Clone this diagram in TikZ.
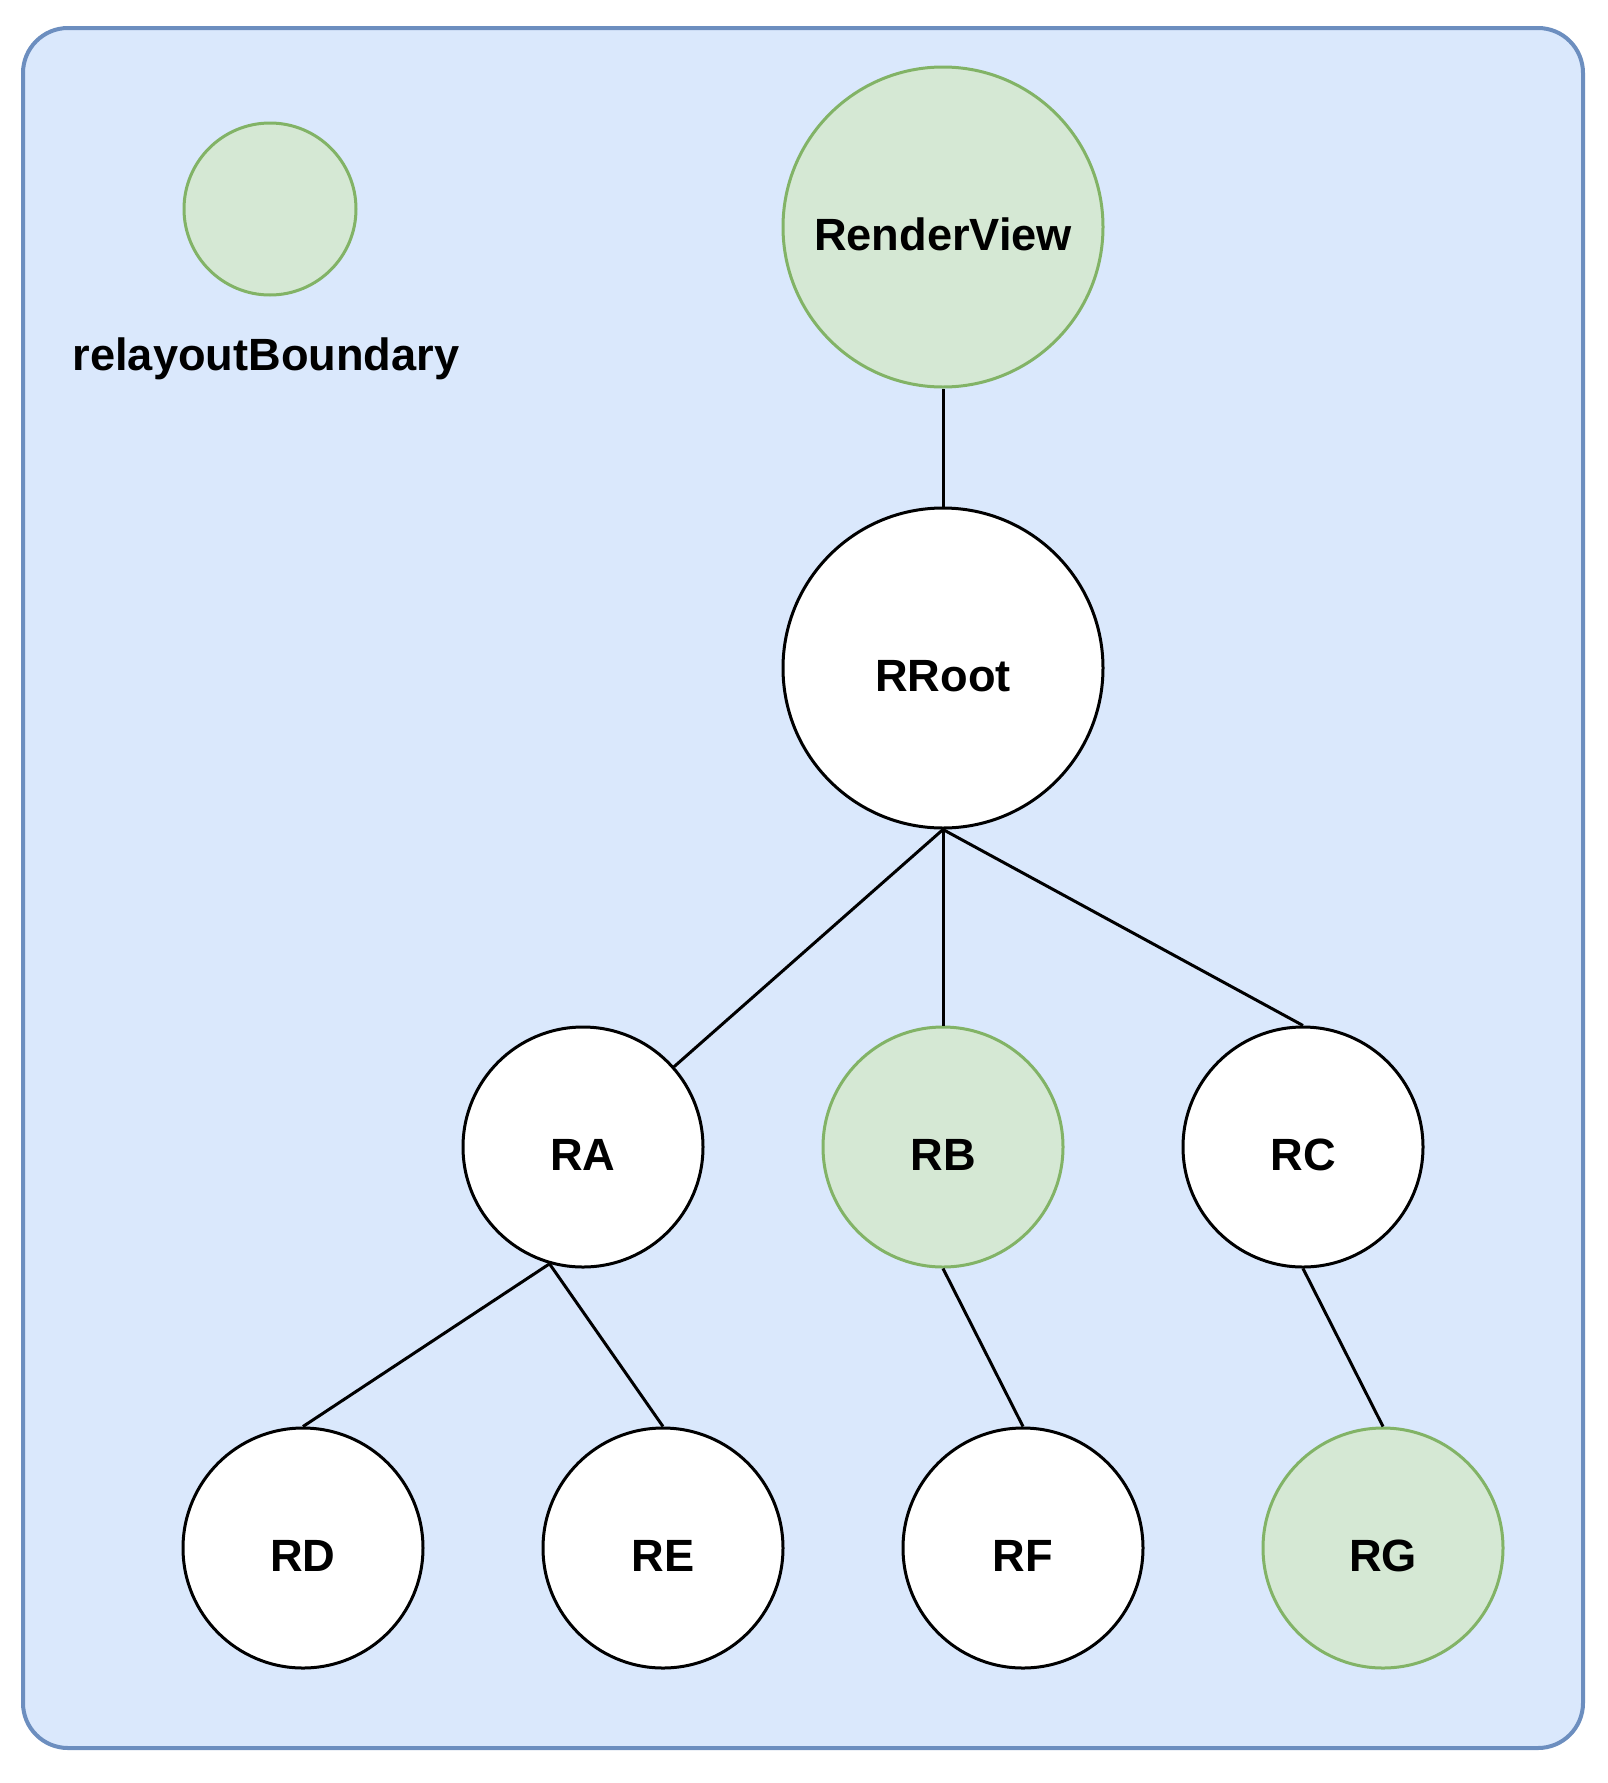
\documentclass[tikz,border=0pt]{standalone}
\usepackage{fontspec}
\setmainfont{Liberation Sans}
\usepackage{tikz}
\usetikzlibrary{positioning}
\definecolor{cFrame}{HTML}{6c8ebf}
\definecolor{cFrameBg}{HTML}{dae8fc}
\definecolor{cGreen}{HTML}{82b366}
\definecolor{cGreenBg}{HTML}{d5e8d4}
\newcommand{\lbl}{\fontsize{22.6}{27}\selectfont\bfseries}
\tikzset{
  frame/.style={draw=cFrame, fill=cFrameBg, line width=2pt, rounded corners=22.5pt},
  rnode/.style={circle, draw=black, fill=white, line width=1.5pt,
      minimum size=120pt, inner sep=0pt, font=\lbl, text height=23pt, text depth=0pt},
  bignode/.style={rnode, minimum size=160pt},
  boundary/.style={draw=cGreen, fill=cGreenBg},
  link/.style={draw=black, line width=1.5pt},
}

\begin{document}
\begin{tikzpicture}[x=0.5pt, y=-0.5pt]
\useasboundingbox (0,0) rectangle (1607,1783);

% ===================== frame + legend =====================
\draw[frame] (23,28) rectangle (1583,1748);
\node[rnode, boundary, minimum size=86pt] (legend) at (270,209) {};
\node[font=\lbl, anchor=base] (legtxt) at (266,370) {relayoutBoundary};

% ===================== tree =====================
\node[bignode, boundary] (rv) at (943,227) {RenderView};
\node[bignode] (root) at (943,668) {RRoot};

\node[rnode] (ra) at (583,1147) {RA};
\node[rnode, boundary] (rb) at (943,1147) {RB};
\node[rnode] (rc) at (1303,1147) {RC};

\node[rnode] (rd) at (303,1548) {RD};
\node[rnode] (re) at (663,1548) {RE};
\node[rnode] (rf) at (1023,1548) {RF};
\node[rnode, boundary] (rg) at (1383,1548) {RG};

\coordinate (raj) at (ra.-106);

\draw[link] (rv.south) -- (root.north);
\draw[link] (root.south) -- (ra);
\draw[link] (root.south) -- (rb.north);
\draw[link] (root.south) -- (rc.north);
\draw[link] (raj) -- (rd.north);
\draw[link] (raj) -- (re.north);
\draw[link] (rb.south) -- (rf.north);
\draw[link] (rc.south) -- (rg.north);

\end{tikzpicture}
\end{document}
